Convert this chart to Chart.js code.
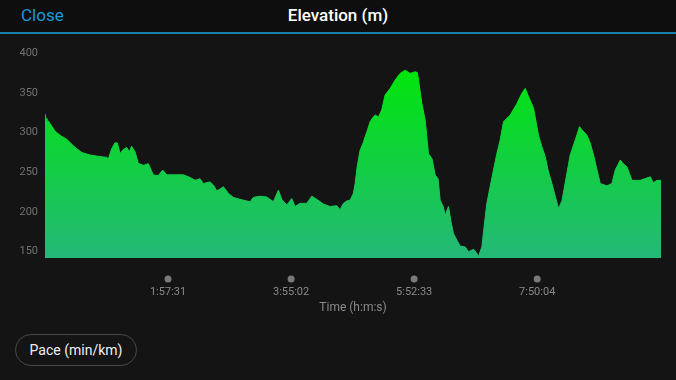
<!DOCTYPE html>
<html>
<head>
<meta charset="utf-8">
<script src="https://cdn.jsdelivr.net/npm/chart.js@4.4.1/dist/chart.umd.min.js"></script>
<style>
  html, body { margin: 0; padding: 0; background: #141414; width: 676px; height: 380px; overflow: hidden; font-family: Roboto, "Liberation Sans", sans-serif; }
  #header { position: absolute; left: 0; top: 0; width: 676px; height: 32px; background: #0e0e0e; }
  #line { position: absolute; left: 0; top: 32px; width: 676px; height: 2px; background: #1b7fb0; }
  #close { position: absolute; left: 21px; top: 5px; font-size: 17px; color: #1a9ad8; line-height: 20px; }
  #title { position: absolute; left: 0; width: 676px; top: 5px; text-align: center; font-size: 17px; font-weight: 500; color: #ffffff; line-height: 20px; }
  #wrap { position: absolute; left: 0; top: 35px; width: 676px; height: 285px; }
  #pace { position: absolute; left: 15px; top: 334px; width: 120px; height: 30px; border: 1px solid #474747; border-radius: 16px; color: #f0f0f0; font-size: 14px; line-height: 30px; text-align: center; box-sizing: content-box; }
</style>
</head>
<body>
<div id="header"><div id="close">Close</div><div id="title">Elevation (m)</div></div>
<div id="line"></div>
<div id="wrap"><canvas id="c" width="676" height="285"></canvas></div>
<div id="pace">Pace (min/km)</div>
<script>
// elapsed time (minutes) and elevation (m)
const timeMin = [0, 1.0, 1.9, 3.2, 6.7, 9.6, 11.5, 15.3, 20.7, 26.8, 30.3, 35.4, 43.0, 52.5, 59.2, 60.2, 63.7, 66.9, 69.1, 71.7, 74.8, 78.1, 80.5, 82.8, 86.0, 89.1, 93.9, 98.7, 103.5, 108.2, 112.4, 116.3, 122.6, 132.1, 138.5, 143.3, 148.1, 151.2, 157.6, 160.8, 164.0, 167.2, 170.3, 175.1, 179.9, 186.3, 192.7, 195.9, 199.0, 205.4, 211.8, 218.1, 222.9, 226.1, 230.9, 235.7, 238.8, 243.6, 250.0, 254.8, 259.6, 265.9, 272.3, 278.7, 281.8, 285.0, 288.2, 291.4, 294.5, 296.2, 298.1, 300.9, 303.8, 305.7, 307.6, 310.5, 312.4, 315.3, 318.4, 321.6, 324.8, 329.6, 334.4, 339.2, 344.0, 348.7, 353.5, 355.7, 359.9, 363.1, 366.2, 369.7, 372.6, 375.4, 377.4, 380.3, 382.2, 385.3, 387.9, 390.1, 393.6, 396.5, 401.3, 404.5, 409.3, 411.8, 414.0, 417.2, 419.4, 422.0, 425.1, 428.3, 431.6, 434.7, 437.9, 444.3, 450.7, 455.5, 458.6, 461.8, 466.6, 471.3, 474.6, 477.7, 480.6, 484.1, 487.3, 490.4, 493.7, 496.8, 501.6, 506.4, 510.5, 514.0, 517.6, 520.7, 523.9, 527.4, 530.3, 536.7, 541.4, 544.6, 549.4, 552.3, 555.8, 560.6, 568.5, 578.1, 580.9, 584.5, 588.3];
const elevation = [322, 316, 312, 313, 306, 300, 298, 294, 290, 282, 278, 273, 270, 268, 267, 264, 278, 285.5, 285, 272, 277, 279.5, 274, 281, 274, 259.5, 257, 259, 244.7, 244, 251, 245, 245, 245, 241.7, 238, 240, 234, 236, 232, 225, 227, 230, 221.6, 216.5, 214, 212, 211, 216.5, 218, 217, 211, 225.7, 214, 207, 215, 205, 209, 209, 218, 214, 208, 205, 206, 201, 209, 212, 213, 221.6, 234, 255, 276, 285, 293, 300, 312, 316, 320.5, 318, 326.8, 345.7, 354, 364.6, 373, 377, 373, 375, 374, 335, 314, 272, 265, 244.7, 240, 213, 205, 194, 205, 185, 171, 162, 155, 154, 148, 151, 147, 142, 154, 180, 209, 230, 251, 272, 289, 312, 320.5, 335, 348, 354, 343.7, 329, 295, 280, 268, 250, 234, 218, 202.6, 212, 235, 270, 289, 305.7, 300, 295, 285, 270, 250, 234, 231, 234, 251, 263.6, 259, 255, 238, 238, 242.5, 235, 238, 238];
const xTickLabels = ['1:57:31', '3:55:02', '5:52:33', '7:50:04'];
const yTickValues = [150, 200, 250, 300, 350, 400];

function hmsToMin(s) { const p = s.split(':').map(Number); return p[0] * 60 + p[1] + p[2] / 60; }
const xTickValues = xTickLabels.map(hmsToMin);
const points = timeMin.map((t, i) => ({ x: t, y: elevation[i] }));

const dotPlugin = {
  id: 'tickDots',
  afterDraw(chart) {
    const xs = chart.scales.x, ctx = chart.ctx, y = chart.chartArea.bottom + 21;
    ctx.save();
    ctx.fillStyle = '#7a7a7a';
    xs.ticks.forEach(t => {
      ctx.beginPath();
      ctx.arc(xs.getPixelForValue(t.value), y, 3.5, 0, Math.PI * 2);
      ctx.fill();
    });
    ctx.restore();
  }
};

function grad(ctx) {
  const ca = ctx.chart.chartArea;
  if (!ca) return '#10d040';
  const g = ctx.chart.ctx.createLinearGradient(0, ca.top + 15, 0, ca.bottom);
  g.addColorStop(0, '#00e60a');
  g.addColorStop(1, '#24b878');
  return g;
}

new Chart(document.getElementById('c'), {
  type: 'line',
  data: { datasets: [{ data: points, fill: 'start', backgroundColor: grad, borderColor: grad, borderWidth: 1, pointRadius: 0, tension: 0 }] },
  plugins: [dotPlugin],
  options: {
    responsive: false, animation: false,
    layout: { padding: { top: 17, right: 15, left: 0, bottom: 0 } },
    plugins: { legend: { display: false }, tooltip: { enabled: false } },
    scales: {
      x: {
        type: 'linear', min: 0, max: timeMin[timeMin.length - 1],
        grid: { display: false, drawTicks: false }, border: { display: false },
        afterBuildTicks: s => { s.ticks = xTickValues.map(v => ({ value: v })); },
        afterFit: s => { s.height = 62; },
        ticks: { color: '#8a8a8a', font: { family: 'Roboto', size: 11 }, padding: 28, maxRotation: 0,
          callback: (v, i) => xTickLabels[i] },
        title: { display: true, text: 'Time (h:m:s)', color: '#8a8a8a', font: { family: 'Roboto', size: 12 }, padding: { top: 0, bottom: 5 } }
      },
      y: {
        min: 140, max: 400,
        grid: { display: false, drawTicks: false }, border: { display: false },
        afterBuildTicks: s => { s.ticks = yTickValues.map(v => ({ value: v })); },
        afterFit: s => { s.width = 45; },
        ticks: { color: '#727272', font: { family: 'Roboto', size: 11 }, padding: 7, labelOffset: 1.5 }
      }
    }
  }
});
</script>
</body>
</html>
